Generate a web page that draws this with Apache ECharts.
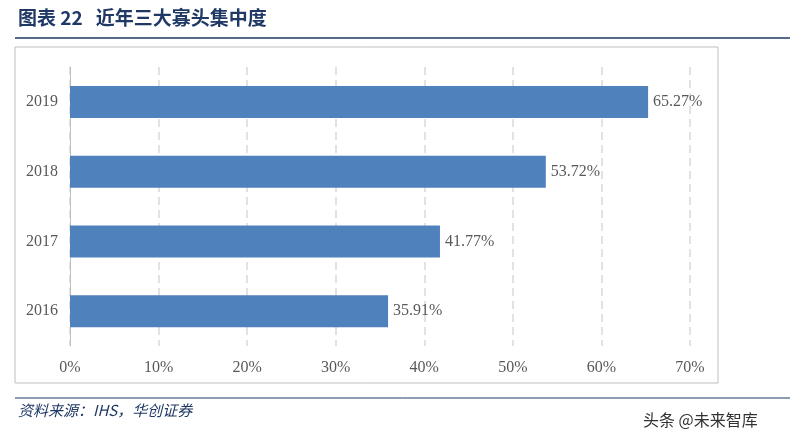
<!DOCTYPE html>
<html><head><meta charset="utf-8">
<script src="https://cdn.jsdelivr.net/npm/echarts@6/dist/echarts.min.js"></script>
<style>body{margin:0;background:#fff}#c{width:804px;height:440px}</style>
</head><body><div id="c"></div>
<script>
// 近年三大寡头集中度
var years = ['2016', '2017', '2018', '2019'];
var shares = [35.91, 41.77, 53.72, 65.27];
var xTicks = [0, 10, 20, 30, 40, 50, 60, 70];

var chart = echarts.init(document.getElementById('c'));
chart.setOption({
    animation: false,
    graphic: [
        {type: 'text', left: 18, top: 8, style: {text: '图表 22   近年三大寡头集中度', fill: '#1f3864', font: 'bold 19px "Noto Sans CJK SC"'}},
        {type: 'line', shape: {x1: 15, y1: 38, x2: 790, y2: 38}, style: {stroke: '#1f3864', lineWidth: 1.5}},
        {type: 'rect', shape: {x: 15, y: 47, width: 703, height: 336}, style: {fill: 'none', stroke: '#bfbfbf', lineWidth: 1}},
        {type: 'line', shape: {x1: 15, y1: 398, x2: 790, y2: 398}, style: {stroke: '#1f3864', lineWidth: 1}},
        {type: 'text', left: 18, top: 403, style: {text: '资料来源：IHS，华创证券', fill: '#1f3864', font: 'italic 15px "Noto Sans CJK SC"'}},
        {type: 'text', left: 643, top: 412, style: {text: '头条 @未来智库', fill: '#333', font: '16px "Noto Sans CJK SC"'}}
    ],
    grid: {left: 70, right: 114, top: 67, bottom: 94},
    xAxis: {
        type: 'value', min: 0, max: 70, interval: 10,
        axisLine: {show: false}, axisTick: {show: false},
        axisLabel: {formatter: '{value}%', color: '#595959', fontFamily: 'Liberation Serif', fontSize: 16, margin: 14},
        splitLine: {lineStyle: {type: [8, 5], color: '#d9d9d9', width: 1.5}}
    },
    yAxis: {
        type: 'category', data: years,
        axisLine: {lineStyle: {color: '#bfbfbf'}}, axisTick: {show: false},
        axisLabel: {color: '#595959', fontFamily: 'Liberation Serif', fontSize: 16, margin: 12}
    },
    series: [{
        type: 'bar', data: shares, barWidth: 32,
        itemStyle: {color: '#4f81bd'},
        label: {show: true, position: 'right', formatter: function (p) { return p.value.toFixed(2) + '%'; },
            color: '#595959', fontFamily: 'Liberation Serif', fontSize: 16}
    }]
});
</script></body></html>
